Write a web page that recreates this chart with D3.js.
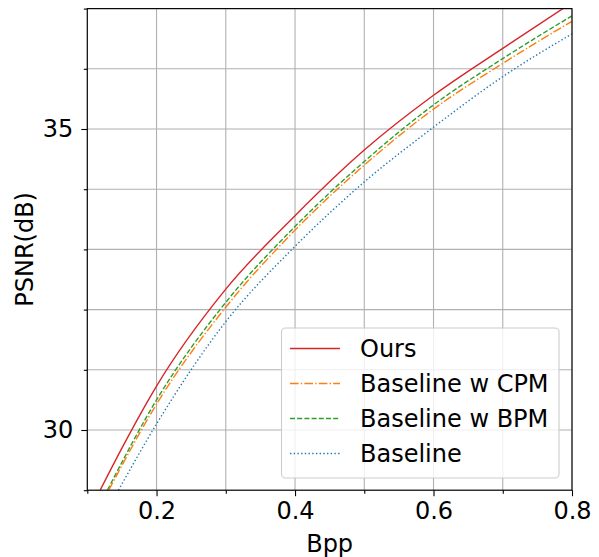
<!DOCTYPE html>
<meta charset="utf-8">
<style>
  body { margin: 0; background: #fff; }
  svg { font-family: "DejaVu Sans", sans-serif; }
</style>
<div id="chart"></div>
<script src="https://d3js.org/d3.v7.min.js"></script>
<script>
  // DATA
  const seriesNames = ["Ours", "Baseline w CPM", "Baseline w BPM", "Baseline"];
  const oursBpp = [0.1185, 0.15, 0.2, 0.3, 0.4, 0.5, 0.6, 0.7, 0.8];
  const oursPsnr = [29.0, 29.7, 30.73, 32.34, 33.56, 34.65, 35.56, 36.34, 37.1];
  const cpmBpp = [0.131, 0.2, 0.3, 0.4, 0.5, 0.6, 0.7, 0.8];
  const cpmPsnr = [29.0, 30.43, 32.04, 33.32, 34.4, 35.33, 36.09, 36.79];
  const bpmBpp = [0.129, 0.2, 0.3, 0.4, 0.5, 0.6, 0.7, 0.8];
  const bpmPsnr = [29.0, 30.5, 32.12, 33.38, 34.46, 35.4, 36.17, 36.88];
  const baseBpp = [0.145, 0.2, 0.3, 0.4, 0.5, 0.6, 0.7, 0.8];
  const basePsnr = [29.0, 30.1, 31.8, 33.05, 34.12, 35.03, 35.87, 36.58];
  const xMajor = [0.2, 0.4, 0.6, 0.8];
  const xMinor = [0.1, 0.3, 0.5, 0.7];
  const yMajor = [30, 35];
  const yMinor = [29, 31, 32, 33, 34, 36, 37];

  const W = 599, H = 557;
  const margin = { top: 8.6, right: 27, bottom: 66.8, left: 87.3 };
  const width = W - margin.left - margin.right;
  const height = H - margin.top - margin.bottom;

  const svg = d3.select("#chart").append("svg")
    .attr("width", W).attr("height", H);
  const g = svg.append("g")
    .attr("transform", "translate(" + margin.left + "," + margin.top + ")");

  const x = d3.scaleLinear().domain([0.1, 0.8]).range([0, width]);
  const y = d3.scaleLinear().domain([29, 37]).range([height, 0]);

  // grid
  const grid = g.append("g").attr("stroke", "#b0b0b0").attr("stroke-width", 1.1);
  xMajor.concat(xMinor).forEach(v => {
    grid.append("line").attr("x1", x(v)).attr("x2", x(v)).attr("y1", 0).attr("y2", height);
  });
  yMajor.concat(yMinor).forEach(v => {
    grid.append("line").attr("y1", y(v)).attr("y2", y(v)).attr("x1", 0).attr("x2", width);
  });

  // curves
  g.append("clipPath").attr("id", "clip")
    .append("rect").attr("width", width).attr("height", height);

  const series = [
    { name: seriesNames[3], bpp: baseBpp, psnr: basePsnr, color: "#1f77b4", dash: "1.4,2.3" },
    { name: seriesNames[2], bpp: bpmBpp, psnr: bpmPsnr, color: "#2ca02c", dash: "5,2.2" },
    { name: seriesNames[1], bpp: cpmBpp, psnr: cpmPsnr, color: "#ff7f0e", dash: "8.6,2.2,1.4,2.2" },
    { name: seriesNames[0], bpp: oursBpp, psnr: oursPsnr, color: "#d62728", dash: null }
  ];

  const line = d3.line()
    .x(d => x(d[0]))
    .y(d => y(d[1]))
    .curve(d3.curveMonotoneX);

  series.forEach(s => {
    g.append("path")
      .attr("clip-path", "url(#clip)")
      .attr("fill", "none")
      .attr("stroke", s.color)
      .attr("stroke-width", 1.4)
      .attr("stroke-dasharray", s.dash)
      .attr("d", line(s.bpp.map((b, i) => [b, s.psnr[i]])));
  });

  // axes
  g.append("g").attr("transform", "translate(0," + height + ")")
    .call(d3.axisBottom(x).tickValues(xMajor).tickSize(6).tickPadding(6).tickFormat(d3.format(".1f")));
  g.append("g").attr("transform", "translate(0," + height + ")")
    .call(d3.axisBottom(x).tickValues(xMinor).tickSize(3.5).tickFormat(""));
  g.append("g")
    .call(d3.axisLeft(y).tickValues(yMajor).tickSize(6).tickPadding(8));
  g.append("g")
    .call(d3.axisLeft(y).tickValues(yMinor).tickSize(3.5).tickFormat(""));

  g.selectAll(".domain").remove();
  g.selectAll(".tick line").attr("stroke", "#000").attr("stroke-width", 1.1);
  g.selectAll(".tick text").attr("fill", "#000").style("font-size", "24px")
    .style("font-family", "DejaVu Sans");

  // spines
  g.append("rect").attr("width", width).attr("height", height)
    .attr("fill", "none").attr("stroke", "#000").attr("stroke-width", 1.1);

  // labels
  svg.append("text")
    .attr("x", margin.left + width / 2).attr("y", 552)
    .attr("text-anchor", "middle").style("font-size", "24px")
    .text("Bpp");
  svg.append("text")
    .attr("transform", "translate(33," + (margin.top + height / 2) + ") rotate(-90)")
    .attr("text-anchor", "middle").style("font-size", "24px")
    .text("PSNR(dB)");

  // legend
  const legend = svg.append("g");
  legend.append("rect")
    .attr("x", 281.5).attr("y", 328).attr("width", 277.5).attr("height", 150)
    .attr("rx", 4).attr("fill", "#fff").attr("fill-opacity", 0.8)
    .attr("stroke", "#cccccc").attr("stroke-width", 1.1);
  const legendOrder = [series[3], series[2], series[1], series[0]];
  legendOrder.forEach((s, i) => {
    const ly = 348.5 + i * 35;
    legend.append("line")
      .attr("x1", 290).attr("x2", 340).attr("y1", ly).attr("y2", ly)
      .attr("stroke", s.color).attr("stroke-width", 1.4)
      .attr("stroke-dasharray", s.dash);
    legend.append("text")
      .attr("x", 360).attr("y", ly).attr("dy", "0.36em")
      .style("font-size", "24px").text(s.name);
  });
</script>
